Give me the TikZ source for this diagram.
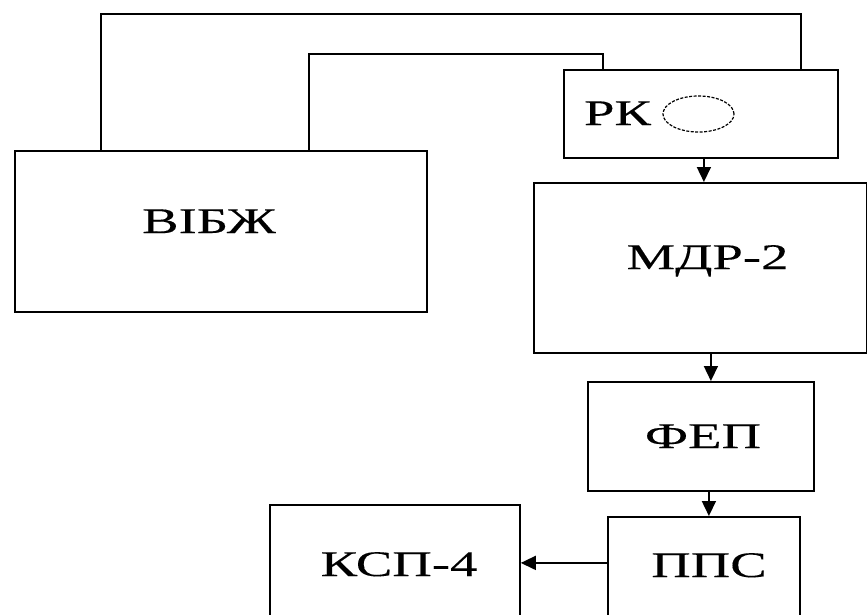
\documentclass[tikz,border=0pt]{standalone}
\usepackage{fontspec}
\setmainfont{Liberation Serif}
\newfontfamily\blkfont[FakeBold=0.2]{Liberation Serif}
\usepackage{graphicx}
\usetikzlibrary{positioning, shapes.geometric, arrows.meta}

% stretched capitals as in the scheme
\newcommand{\wtext}[1]{\scalebox{1.52}[1]{#1}}

\begin{document}
\begin{tikzpicture}[x=1pt, y=-1pt,
    blk/.style={draw, line width=1.8pt, inner sep=0pt, anchor=north west},
    lbl/.style={inner sep=0pt, anchor=base, font=\blkfont\fontsize{36}{40}\selectfont},
    wire/.style={line width=1.8pt},
    arr/.style={line width=1.6pt, -{Triangle[length=15pt,width=14pt]}}]

        % Page frame
        \useasboundingbox (0,0) rectangle (867,614);
        \clip (0,0) rectangle (867,614);

        % Blocks
        \node[blk, minimum width=412pt, minimum height=161pt] (vibzh) at (14,150) {};
        \node[blk, minimum width=274pt, minimum height=88pt] (rk) at (563,69) {};
        \node[blk, minimum width=333pt, minimum height=170pt] (mdr) at (533,182) {};
        \node[blk, minimum width=226pt, minimum height=109pt] (fep) at (587,381) {};
        \node[blk, minimum width=192pt, minimum height=110pt] (pps) at (607,516) {};
        \node[blk, minimum width=250pt, minimum height=122pt] (ksp) at (269,504) {};

        % Labels
        \node[lbl] (vibzhTxt) at (209,233) {\wtext{ВІБЖ}};
        \node[lbl] (rkTxt) at (617.5,125) {\wtext{РК}};
        \node[lbl] (mdrTxt) at (707.5,269) {\wtext{МДР-2}};
        \node[lbl] (fepTxt) at (703,448) {\wtext{ФЕП}};
        \node[lbl] (ppsTxt) at (709,577) {\wtext{ППС}};
        \node[lbl] (kspTxt) at (399,576) {\wtext{КСП-4}};

        % Lamp of the RK
        \node[ellipse, draw, line width=1.2pt, dash pattern=on 3pt off 1.5pt, inner sep=0pt,
              minimum width=71pt, minimum height=36pt] (lamp) at (698.5,114) {};

        % Feedback loops over the top
        \draw[wire] ([xshift=87pt]vibzh.north west) -- ++(0,-136) -| ([xshift=-38pt]rk.north east);
        \draw[wire] ([xshift=295pt]vibzh.north west) -- ++(0,-96) -| ([xshift=40pt]rk.north west);

        % Signal chain
        \foreach \a/\b/\s in {rk/mdr/3pt, mdr/fep/10.5pt, fep/pps/8pt} {
          \draw[arr] ([xshift=\s]\a.south) -- ([xshift=\s]\a.south |- \b.north);
        }
        \draw[arr] ([yshift=9pt]pps.west) -- ([yshift=9pt]pps.west -| ksp.east);
\end{tikzpicture}
\end{document}
